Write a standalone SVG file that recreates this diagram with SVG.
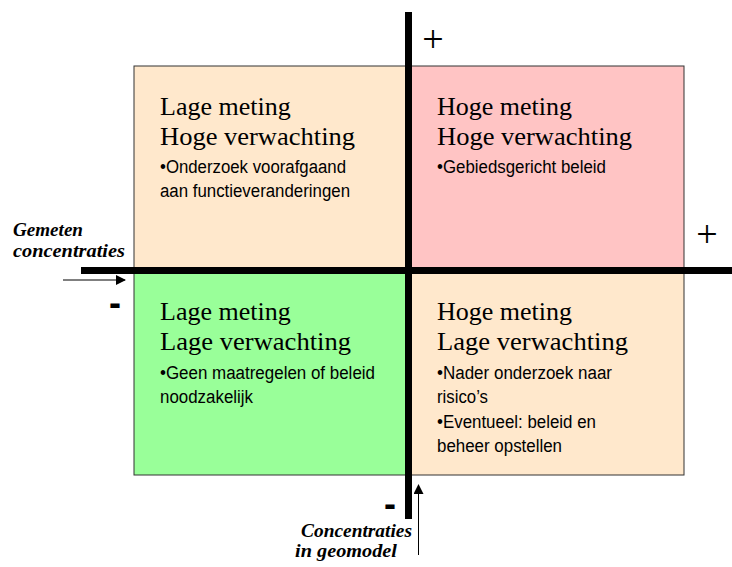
<svg xmlns="http://www.w3.org/2000/svg" width="732" height="567" viewBox="0 0 732 567">
<defs>
<style>
.q{stroke:#333;stroke-width:1}
.t{font-family:"Liberation Serif","Times New Roman",serif;font-size:26px;fill:#000}
.b{font-family:"Liberation Sans",Arial,sans-serif;font-size:18px;fill:#000}
.ax{font-family:"Liberation Serif","Times New Roman",serif;font-size:19px;font-weight:bold;font-style:italic;fill:#000}
.pm{font-family:"Liberation Serif","Times New Roman",serif;font-size:38px;fill:#000}
.mn{font-family:"Liberation Sans",Arial,sans-serif;font-size:36px;font-weight:bold;fill:#000}
.bar{fill:#000}
</style>
<marker id="ah" markerWidth="10" markerHeight="10" refX="9" refY="5" orient="auto" markerUnits="userSpaceOnUse">
<path d="M0,0 L10,5 L0,10 Z" fill="#000"/>
</marker>
</defs>
<g id="q-top-left">
<rect class="q" x="134" y="66" width="274" height="204" fill="#FFE8CC"/>
<text class="t" x="160" y="115">Lage meting</text>
<text class="t" x="160" y="145" textLength="195" lengthAdjust="spacingAndGlyphs">Hoge verwachting</text>
<text class="b" x="160" y="173" textLength="186" lengthAdjust="spacingAndGlyphs">•Onderzoek voorafgaand</text>
<text class="b" x="160" y="197" textLength="190" lengthAdjust="spacingAndGlyphs">aan functieveranderingen</text>
</g>
<g id="q-top-right">
<rect class="q" x="408" y="66" width="276" height="204" fill="#FFC4C4"/>
<text class="t" x="437" y="115">Hoge meting</text>
<text class="t" x="437" y="145" textLength="195" lengthAdjust="spacingAndGlyphs">Hoge verwachting</text>
<text class="b" x="437" y="173" textLength="169" lengthAdjust="spacingAndGlyphs">•Gebiedsgericht beleid</text>
</g>
<g id="q-bottom-left">
<rect class="q" x="134" y="270" width="274" height="205" fill="#99FF99"/>
<text class="t" x="160" y="320">Lage meting</text>
<text class="t" x="160" y="350" textLength="191" lengthAdjust="spacingAndGlyphs">Lage verwachting</text>
<text class="b" x="160" y="379" textLength="215" lengthAdjust="spacingAndGlyphs">•Geen maatregelen of beleid</text>
<text class="b" x="160" y="403" textLength="93" lengthAdjust="spacingAndGlyphs">noodzakelijk</text>
</g>
<g id="q-bottom-right">
<rect class="q" x="408" y="270" width="276" height="205" fill="#FFE8CC"/>
<text class="t" x="437" y="320">Hoge meting</text>
<text class="t" x="437" y="350" textLength="191" lengthAdjust="spacingAndGlyphs">Lage verwachting</text>
<text class="b" x="437" y="379" textLength="175" lengthAdjust="spacingAndGlyphs">•Nader onderzoek naar</text>
<text class="b" x="437" y="403" textLength="51" lengthAdjust="spacingAndGlyphs">risico’s</text>
<text class="b" x="437" y="428" textLength="159" lengthAdjust="spacingAndGlyphs">•Eventueel: beleid en</text>
<text class="b" x="437" y="452" textLength="125" lengthAdjust="spacingAndGlyphs">beheer opstellen</text>
</g>
<g id="connectors">
<rect class="bar" x="405" y="12" width="7" height="507"/>
<rect class="bar" x="81" y="267" width="651" height="7"/>
<line x1="63" y1="280" x2="125" y2="280" stroke="#000" stroke-width="1" marker-end="url(#ah)"/>
<line x1="418.5" y1="555" x2="418.5" y2="485" stroke="#000" stroke-width="1" marker-end="url(#ah)"/>
</g>
<g id="labels">
<text class="ax" x="13" y="236" textLength="70" lengthAdjust="spacingAndGlyphs">Gemeten</text>
<text class="ax" x="13" y="257" textLength="112" lengthAdjust="spacingAndGlyphs">concentraties</text>
<text class="ax" x="301" y="537" textLength="111" lengthAdjust="spacingAndGlyphs">Concentraties</text>
<text class="ax" x="295" y="557" textLength="102" lengthAdjust="spacingAndGlyphs">in geomodel</text>
<text class="pm" x="433" y="52" text-anchor="middle">+</text>
<text class="pm" x="707" y="247" text-anchor="middle">+</text>
<text class="mn" x="115" y="315" text-anchor="middle">-</text>
<text class="mn" x="390" y="516" text-anchor="middle">-</text>
</g>
</svg>
